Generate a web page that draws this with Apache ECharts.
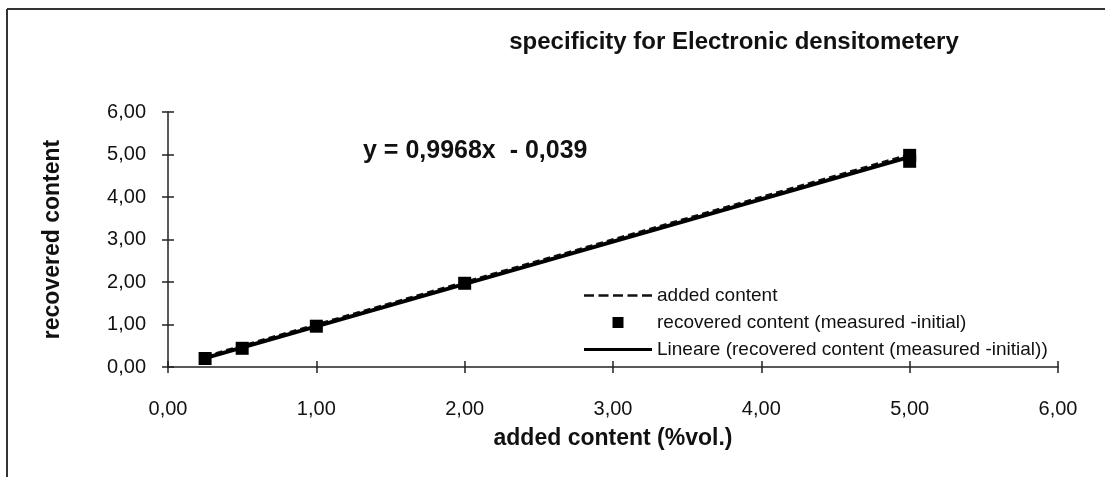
<!DOCTYPE html>
<html>
<head>
<meta charset="utf-8">
<script src="https://cdn.jsdelivr.net/npm/echarts@6/dist/echarts.min.js"></script>
<style>
html,body{margin:0;padding:0;background:#fff;}
#c{width:1105px;height:477px;}
</style>
</head>
<body>
<div id="c"></div>
<script>
// ---- data ----
const titleText = 'specificity for Electronic densitometery';
const equationText = 'y = 0,9968x  - 0,039';
const xAxisName = 'added content (%vol.)';
const yAxisName = 'recovered content';
const seriesNames = ['added content', 'recovered content (measured -initial)', 'Lineare (recovered content (measured -initial))'];
const addedX = [0.25, 0.5, 1, 2, 5];
const addedY = [0.25, 0.5, 1, 2, 5];
const measuredX = [0.25, 0.5, 1, 2, 5, 5];
const measuredY = [0.20, 0.44, 0.96, 1.97, 4.98, 4.84];
const trendX = [0.25, 5];
const trendY = [0.21, 4.945];
const axisMin = 0, axisMax = 6, axisStep = 1;

const FONT = "'Liberation Sans', Arial, sans-serif";
const fmt = v => v.toFixed(2).replace('.', ',');
const zip = (a, b) => a.map((v, i) => [v, b[i]]);

const dashIcon = 'path://M0,0H10V2.5H0Z M14.5,0H24.5V2.5H14.5Z M29,0H39V2.5H29Z M43.5,0H53.5V2.5H43.5Z M58,0H68V2.5H58Z';
const solidIcon = 'path://M0,0H68V3H0Z';
const squareIcon = 'path://M0,0H10V10H0Z';

const chart = echarts.init(document.getElementById('c'), null, {renderer: 'canvas'});
chart.setOption({
  backgroundColor: '#fff',
  animation: false,
  textStyle: {fontFamily: FONT},
  title: {
    text: titleText,
    left: 729, top: 25, textAlign: 'center',
    textStyle: {fontFamily: FONT, fontWeight: 'bold', fontSize: 24, color: '#111'}
  },
  grid: {left: 168, right: 47, top: 112, bottom: 110, containLabel: false},
  xAxis: [{
    type: 'value', min: axisMin, max: axisMax, interval: axisStep,
    name: xAxisName, nameLocation: 'middle', nameGap: 60,
    nameTextStyle: {fontFamily: FONT, fontWeight: 'bold', fontSize: 23, color: '#111'},
    axisLine: {show: true, lineStyle: {color: '#222', width: 1.5}},
    axisTick: {show: true, inside: false, length: 6, lineStyle: {color: '#222', width: 1.5}},
    axisLabel: {formatter: fmt, fontFamily: FONT, fontSize: 20, color: '#111', margin: 32},
    splitLine: {show: false}
  }, {
    type: 'value', min: axisMin, max: axisMax, interval: axisStep, position: 'bottom',
    axisLine: {show: false},
    axisTick: {show: true, inside: true, length: 6, lineStyle: {color: '#222', width: 1.5}},
    axisLabel: {show: false}, splitLine: {show: false}
  }],
  yAxis: [{
    type: 'value', min: axisMin, max: axisMax, interval: axisStep,
    name: yAxisName, nameLocation: 'middle', nameGap: 104,
    nameTextStyle: {fontFamily: FONT, fontWeight: 'bold', fontSize: 23, color: '#111'},
    axisLine: {show: true, lineStyle: {color: '#222', width: 1.5}},
    axisTick: {show: true, inside: false, length: 6, lineStyle: {color: '#222', width: 1.5}},
    axisLabel: {formatter: fmt, fontFamily: FONT, fontSize: 20, color: '#111', margin: 22},
    splitLine: {show: false}
  }, {
    type: 'value', min: axisMin, max: axisMax, interval: axisStep, position: 'left',
    axisLine: {show: false},
    axisTick: {show: true, inside: true, length: 6, lineStyle: {color: '#222', width: 1.5}},
    axisLabel: {show: false}, splitLine: {show: false}
  }],
  legend: {
    orient: 'vertical', left: 579, top: 280,
    itemWidth: 68, itemHeight: 11, itemGap: 6,
    textStyle: {fontFamily: FONT, fontSize: 19, color: '#111', lineHeight: 21},
    data: [
      {name: seriesNames[0], icon: dashIcon},
      {name: seriesNames[1], icon: squareIcon},
      {name: seriesNames[2], icon: solidIcon}
    ]
  },
  series: [{
    name: seriesNames[0], type: 'line', data: zip(addedX, addedY),
    symbol: 'none', lineStyle: {color: '#111', width: 2.5, type: [7, 4]}, itemStyle: {color: '#111'}, z: 2
  }, {
    name: seriesNames[2], type: 'line', data: zip(trendX, trendY),
    symbol: 'none', lineStyle: {color: '#000', width: 4, type: 'solid'}, itemStyle: {color: '#000'}, z: 3
  }, {
    name: seriesNames[1], type: 'scatter', data: zip(measuredX, measuredY),
    symbol: 'rect', symbolSize: 13, itemStyle: {color: '#000', opacity: 1}, z: 4
  }],
  graphic: [
    {type: 'line', shape: {x1: 7, y1: 9, x2: 1105, y2: 9}, style: {stroke: '#333', lineWidth: 2}},
    {type: 'line', shape: {x1: 7, y1: 9, x2: 7, y2: 477}, style: {stroke: '#333', lineWidth: 2}},
    {type: 'text', left: 363, top: 139, style: {text: equationText, font: "bold 25px 'Liberation Sans', Arial, sans-serif", fill: '#111'}}
  ]
});
</script>
</body>
</html>
